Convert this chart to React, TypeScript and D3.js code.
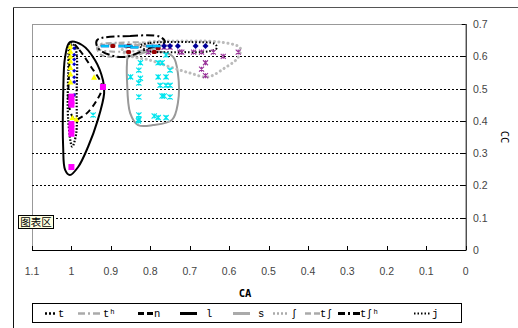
import React from "react";
import * as d3 from "d3";

const W = 518;
const H = 328;

const xTicks = [1.1, 1, 0.9, 0.8, 0.7, 0.6, 0.5, 0.4, 0.3, 0.2, 0.1, 0];
const xTickLabels = ["1.1", "1", "0.9", "0.8", "0.7", "0.6", "0.5", "0.4", "0.3", "0.2", "0.1", "0"];
const yTicks = [0, 0.1, 0.2, 0.3, 0.4, 0.5, 0.6, 0.7];
const yTickLabels = ["0", "0.1", "0.2", "0.3", "0.4", "0.5", "0.6", "0.7"];

// markers [CA, CC]
const yellowTriangles: [number, number][] = [
  [1.0, 0.63], [1.0, 0.615], [1.0, 0.6], [1.0, 0.585], [1.0, 0.565], [1.0, 0.545], [1.0, 0.52],
  [0.995, 0.41], [0.985, 0.405], [0.94, 0.535],
];
const magentaSquares: [number, number][] = [
  [1.0, 0.475], [1.0, 0.46], [1.0, 0.45], [1.0, 0.39], [1.0, 0.375], [1.0, 0.36], [1.0, 0.257], [0.92, 0.505],
];
const navyColumn: [number, number][] = [
  [0.993, 0.625], [0.993, 0.605], [0.993, 0.59], [0.993, 0.575], [0.993, 0.555], [0.993, 0.535], [0.993, 0.52], [0.993, 0.48],
];
const navyDiamonds: [number, number][] = [
  [0.765, 0.632], [0.73, 0.632], [0.685, 0.632], [0.66, 0.632], [0.75, 0.632],
];
const cyanStars: [number, number][] = [
  [0.829, 0.557], [0.825, 0.532], [0.829, 0.517], [0.829, 0.474], [0.829, 0.418], [0.829, 0.405],
  [0.79, 0.415], [0.78, 0.41], [0.76, 0.41], [0.78, 0.536], [0.76, 0.536], [0.75, 0.557],
  [0.775, 0.51], [0.76, 0.51], [0.75, 0.51], [0.77, 0.477], [0.765, 0.477], [0.75, 0.474],
  [0.78, 0.58], [0.77, 0.58], [0.76, 0.604], [0.85, 0.536], [0.825, 0.58], [0.945, 0.418], [0.83, 0.4],
];
const cyanDashes: [number, number][] = [
  [0.915, 0.632], [0.87, 0.632], [0.855, 0.632], [0.84, 0.628], [0.8, 0.632], [0.785, 0.632],
];
const darkRedPoints: [number, number][] = [
  [0.895, 0.632], [0.855, 0.632], [0.855, 0.613], [0.79, 0.613], [0.78, 0.625],
];
const purpleStars: [number, number][] = [
  [0.765, 0.628], [0.75, 0.628], [0.725, 0.613], [0.72, 0.613], [0.69, 0.613], [0.67, 0.613],
  [0.64, 0.613], [0.615, 0.6], [0.577, 0.613], [0.66, 0.58], [0.67, 0.56], [0.66, 0.54], [0.805, 0.613],
];

// enclosing curves
const curveT: [number, number][] = [
  [1.003, 0.643], [0.99, 0.625], [0.987, 0.47], [0.988, 0.36], [0.998, 0.32], [1.008, 0.4], [1.008, 0.55],
];
const curveTh: [number, number][] = [
  [0.93, 0.635], [0.88, 0.642], [0.8, 0.64], [0.78, 0.628], [0.82, 0.618], [0.9, 0.615], [0.93, 0.622],
];
const curveN: [number, number][] = [
  [0.998, 0.64], [0.98, 0.62], [0.95, 0.567], [0.928, 0.526], [0.922, 0.502], [0.935, 0.465],
  [0.958, 0.427], [0.978, 0.409], [0.991, 0.403], [1.005, 0.44], [1.006, 0.55],
];
const curveL: [number, number][] = [
  [1.004, 0.644], [0.973, 0.635], [0.94, 0.588], [0.92, 0.526], [0.917, 0.486], [0.933, 0.403],
  [0.958, 0.319], [0.983, 0.257], [1.004, 0.232], [1.016, 0.248], [1.021, 0.319], [1.021, 0.474], [1.016, 0.598],
];
const curveS: [number, number][] = [
  [0.857, 0.595], [0.826, 0.61], [0.77, 0.613], [0.742, 0.598], [0.73, 0.548], [0.73, 0.455],
  [0.745, 0.403], [0.793, 0.387], [0.831, 0.387], [0.851, 0.424], [0.859, 0.526], [0.859, 0.579],
];
const curveSh: [number, number][] = [
  [0.872, 0.619], [0.801, 0.644], [0.699, 0.647], [0.623, 0.644], [0.572, 0.626], [0.578, 0.595],
  [0.611, 0.564], [0.654, 0.536], [0.699, 0.548], [0.75, 0.567], [0.801, 0.588], [0.851, 0.601],
];
const curveTsh: [number, number][] = [
  [0.935, 0.628], [0.9, 0.638], [0.84, 0.636], [0.8, 0.625], [0.83, 0.605], [0.88, 0.598], [0.925, 0.605],
];
const curveTshh: [number, number][] = [
  [0.935, 0.65], [0.851, 0.663], [0.775, 0.66], [0.763, 0.644], [0.801, 0.626], [0.864, 0.598], [0.902, 0.604], [0.933, 0.626],
];
const curveJ: [number, number][] = [
  [0.826, 0.632], [0.801, 0.641], [0.699, 0.644], [0.636, 0.638], [0.631, 0.626], [0.649, 0.616], [0.725, 0.613], [0.801, 0.616],
];

const legendItems = [
  { label: "t", stroke: "#000", dash: "2,2", width: 2.5, x: 45, len: 11, tx: 58 },
  { label: "tʰ", stroke: "#aaa", dash: "7,3,2,3", width: 2.5, x: 78, len: 22, tx: 103 },
  { label: "n", stroke: "#000", dash: "6,3", width: 3, x: 138, len: 15, tx: 154 },
  { label: "l", stroke: "#000", dash: "none", width: 3, x: 180, len: 17, tx: 206 },
  { label: "s", stroke: "#aaa", dash: "none", width: 3, x: 233, len: 17, tx: 258 },
  { label: "ʃ", stroke: "#aaa", dash: "2,2", width: 2.5, x: 273, len: 14, tx: 291 },
  { label: "tʃ", stroke: "#aaa", dash: "6,3", width: 2.5, x: 305, len: 15, tx: 320 },
  { label: "tʃʰ", stroke: "#000", dash: "7,3,2,3", width: 3, x: 338, len: 22, tx: 360 },
  { label: "j", stroke: "#000", dash: "1.5,2", width: 2, x: 414, len: 17, tx: 432 },
];

export default function App() {
  const x = d3.scaleLinear().domain([1.1, 0]).range([32, 465.7]);
  const y = d3.scaleLinear().domain([0, 0.7]).range([250, 24]);
  const closed = d3
    .line<[number, number]>()
    .x((d) => x(d[0]))
    .y((d) => y(d[1]))
    .curve(d3.curveCatmullRomClosed.alpha(0.5));

  const plotL = x(1.1);
  const plotR = x(0);
  const plotT = y(0.7);
  const plotB = y(0);

  const tri = (px: number, py: number, s: number) =>
    `M${px},${py - s}L${px + s},${py + s * 0.8}L${px - s},${py + s * 0.8}Z`;

  const star = (px: number, py: number, s: number) =>
    `M${px - s},${py - s}L${px + s},${py + s}M${px - s},${py + s}L${px + s},${py - s}M${px},${py - s}L${px},${py + s}`;

  const diamond = (px: number, py: number, s: number) =>
    `M${px},${py - s}L${px + s},${py}L${px},${py + s}L${px - s},${py}Z`;

  return (
    <svg
      width={W}
      height={H}
      style={{ position: "absolute", left: 0, top: 0, background: "#fff" }}
      fontFamily="'Liberation Sans', Arial, sans-serif"
    >
      <rect x={0} y={0} width={W} height={H} fill="#fff" />
      {/* outer frame */}
      <line x1={13.5} y1={7.5} x2={W} y2={7.5} stroke="#555" strokeWidth={1} />
      <line x1={13.5} y1={7.5} x2={13.5} y2={H} stroke="#111" strokeWidth={1} />

      {/* plot area border */}
      <line x1={plotL} y1={plotT + 0.5} x2={plotR} y2={plotT + 0.5} stroke="#999" />
      <line x1={plotL + 0.5} y1={plotT} x2={plotL + 0.5} y2={plotB} stroke="#999" />

      {/* gridlines */}
      {yTicks.filter((t) => t > 0 && t < 0.7).map((t) => (
        <line key={"g" + t} x1={plotL} x2={plotR} y1={Math.round(y(t)) + 0.5} y2={Math.round(y(t)) + 0.5}
          stroke="#000" strokeDasharray="2,2" strokeWidth={1} />
      ))}

      {/* axes */}
      <line x1={plotL} x2={plotR + 0.5} y1={plotB + 0.5} y2={plotB + 0.5} stroke="#000" />
      <line x1={plotR + 0.5} x2={plotR + 0.5} y1={plotT} y2={plotB + 0.5} stroke="#000" />
      {xTicks.map((t) => (
        <line key={"xt" + t} x1={Math.round(x(t)) + 0.5} x2={Math.round(x(t)) + 0.5} y1={plotB} y2={plotB - 4} stroke="#000" />
      ))}
      {yTicks.map((t) => (
        <line key={"yt" + t} x1={plotR} x2={plotR - 4} y1={Math.round(y(t)) + 0.5} y2={Math.round(y(t)) + 0.5} stroke="#000" />
      ))}
      {xTicks.map((t, i) => (
        <text key={"xl" + t} x={x(t)} y={275} textAnchor="middle" fontSize={10.5} fill="#444">
          {xTickLabels[i]}
        </text>
      ))}
      {yTicks.map((t, i) => (
        <text key={"yl" + t} x={473} y={y(t) + 4} textAnchor="start" fontSize={10.5} fill="#444">
          {yTickLabels[i]}
        </text>
      ))}
      <text x={245} y={297} textAnchor="middle" fontSize={10.5} fontWeight="bold" fontFamily="'DejaVu Sans Mono', monospace" fill="#000">
        CA
      </text>
      <text transform={`translate(501,137) rotate(90)`} textAnchor="middle" fontSize={10.5} fontFamily="'DejaVu Sans Mono', monospace" fill="#000">
        CC
      </text>

      {/* enclosing curves */}
      <path d={closed(curveS) || ""} fill="none" stroke="#999" strokeWidth={2} />
      <path d={closed(curveSh) || ""} fill="none" stroke="#bbb" strokeWidth={3} strokeDasharray="0.1,4.5" strokeLinecap="round" />
      <path d={closed(curveTh) || ""} fill="none" stroke="#aaa" strokeWidth={2} strokeDasharray="6,3,2,3" />
      <path d={closed(curveTsh) || ""} fill="none" stroke="#aaa" strokeWidth={2} strokeDasharray="5,3" />
      <path d={closed(curveTshh) || ""} fill="none" stroke="#000" strokeWidth={2} strokeDasharray="8,3,2,3" />
      <path d={closed(curveJ) || ""} fill="none" stroke="#000" strokeWidth={2} strokeDasharray="1.5,2" />
      <path d={closed(curveL) || ""} fill="none" stroke="#000" strokeWidth={2} />
      <path d={closed(curveN) || ""} fill="none" stroke="#000" strokeWidth={2} strokeDasharray="6,4" />
      <path d={closed(curveT) || ""} fill="none" stroke="#000" strokeWidth={2.2} strokeDasharray="1.6,1.6" />

      {/* markers */}
      {cyanStars.map((d, i) => (
        <path key={"cs" + i} d={star(x(d[0]), y(d[1]), 2.6)} stroke="#00e5ee" strokeWidth={1.2} fill="none" />
      ))}
      {purpleStars.map((d, i) => (
        <path key={"ps" + i} d={star(x(d[0]), y(d[1]), 2.5)} stroke="#993399" strokeWidth={1.1} fill="none" />
      ))}
      {darkRedPoints.map((d, i) => (
        <rect key={"dr" + i} x={x(d[0]) - 2.5} y={y(d[1]) - 2} width={5} height={4} rx={1.5} fill="#990000" />
      ))}
      {cyanDashes.map((d, i) => (
        <rect key={"cd" + i} x={x(d[0]) - 4} y={y(d[1]) - 1} width={8} height={2.2} fill="#00ccff" stroke="#0066cc" strokeWidth={0.4} />
      ))}
      {navyDiamonds.map((d, i) => (
        <path key={"nd" + i} d={diamond(x(d[0]), y(d[1]), 3)} fill="#000099" />
      ))}
      {yellowTriangles.map((d, i) => (
        <path key={"yt" + i} d={tri(x(d[0]) - 1, y(d[1]), 3)} fill="#ffff00" />
      ))}
      {navyColumn.map((d, i) => (
        <path key={"nc" + i} d={diamond(x(d[0]), y(d[1]), 2)} fill="#0000cc" />
      ))}
      {magentaSquares.map((d, i) => (
        <rect key={"ms" + i} x={x(d[0]) - 3} y={y(d[1]) - 3} width={6} height={6} fill="#ff00ff" />
      ))}

      {/* tooltip */}
      <rect x={18.5} y={215.5} width={35} height={13} fill="#ffffe1" stroke="#000" strokeWidth={1} />
      <text x={36} y={226} textAnchor="middle" fontSize={10.5} fontFamily="'Noto Sans CJK SC', sans-serif" fill="#000">
        图表区
      </text>

      {/* legend */}
      <rect x={32.5} y={303.5} width={429} height={19} fill="#fff" stroke="#000" />
      {legendItems.map((it) => (
        <g key={it.label}>
          <line x1={it.x} x2={it.x + it.len} y1={313.5} y2={313.5} stroke={it.stroke} strokeWidth={it.width}
            strokeDasharray={it.dash} />
          <text x={it.tx} y={317} fontSize={10.5} fontFamily="'Liberation Mono', monospace" fill="#000">
            {it.label}
          </text>
        </g>
      ))}
    </svg>
  );
}
